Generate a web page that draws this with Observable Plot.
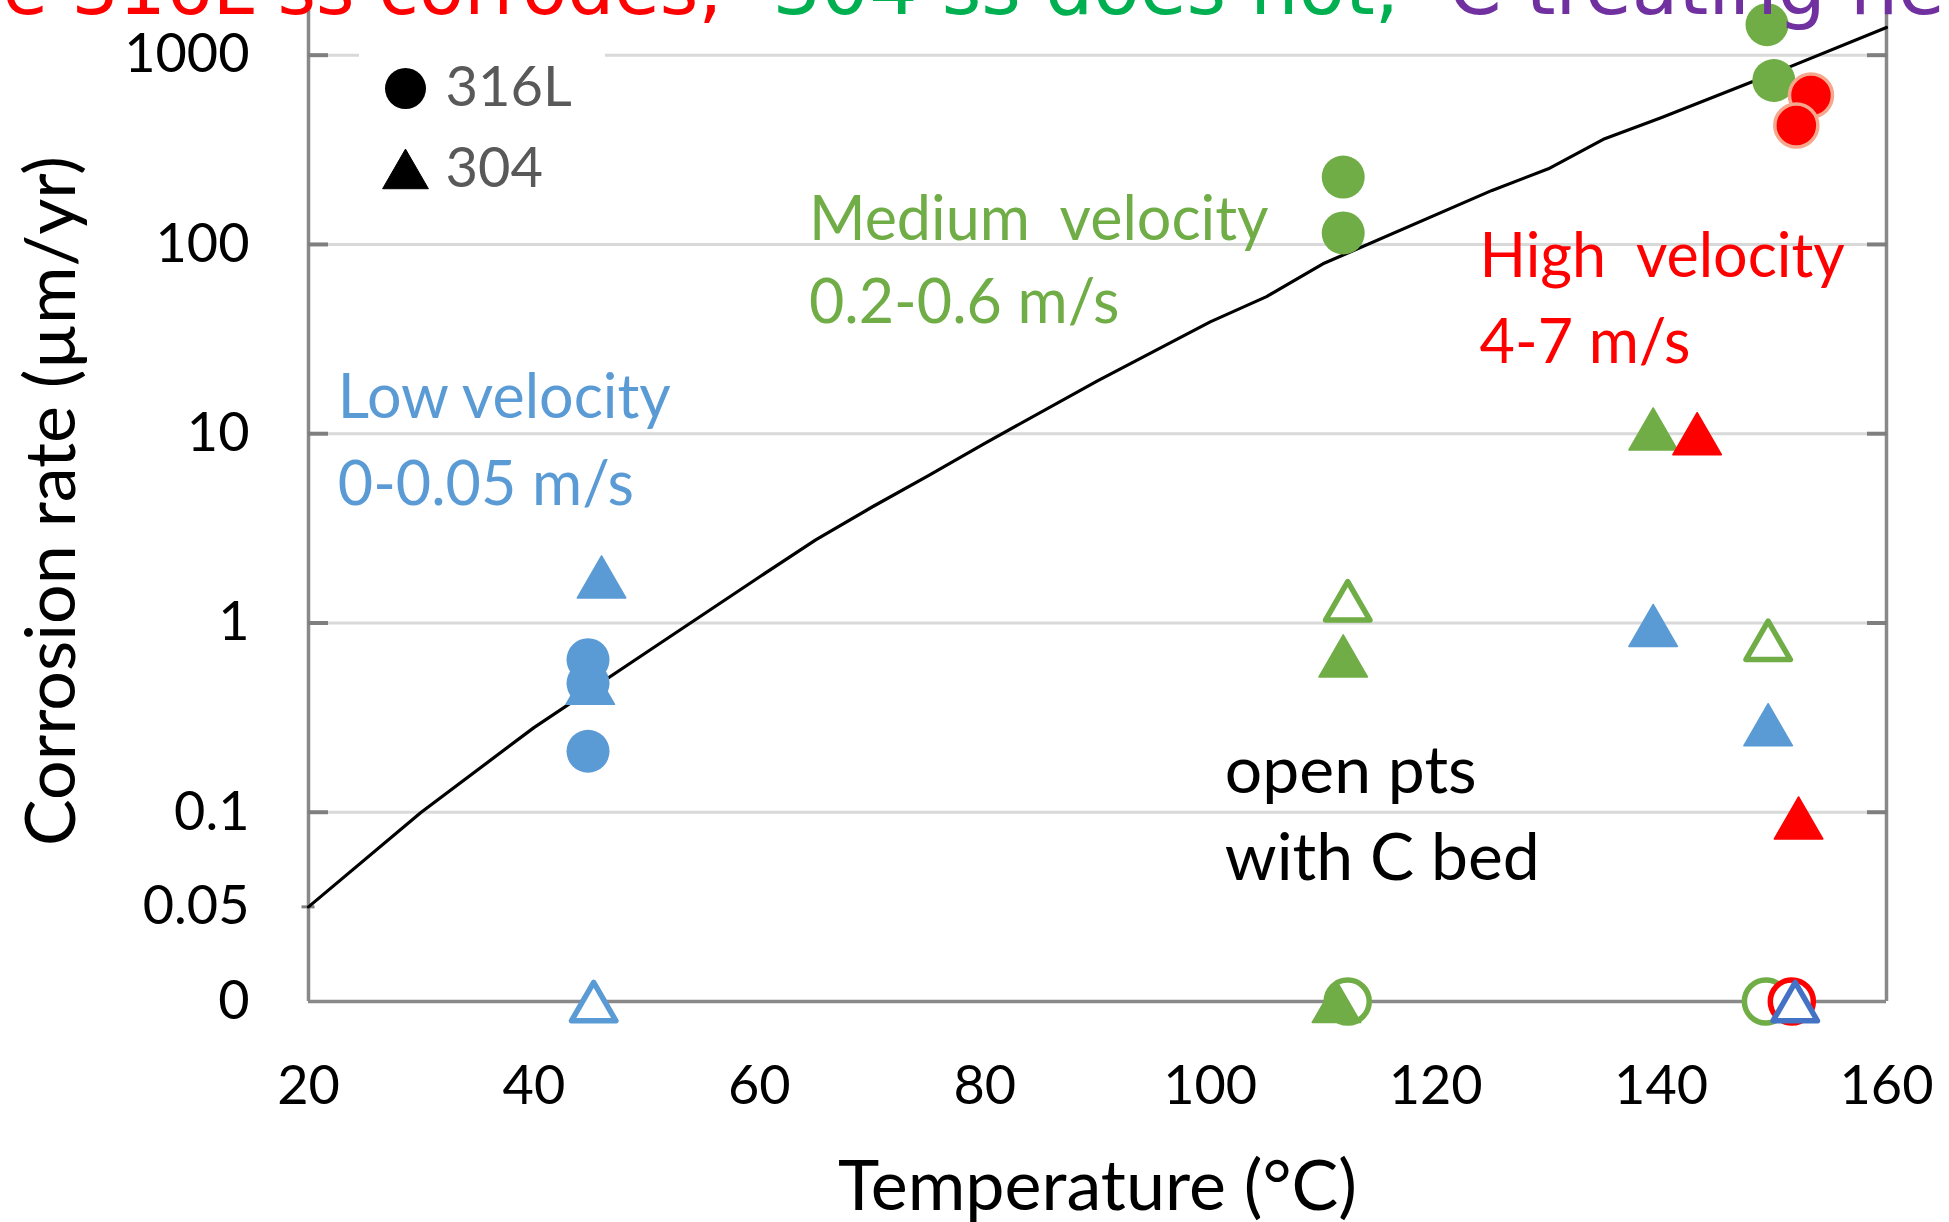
<!DOCTYPE html>
<html>
<head>
<meta charset="utf-8">
<script src="https://cdn.jsdelivr.net/npm/d3@7"></script>
<script src="https://cdn.jsdelivr.net/npm/@observablehq/plot@0.6"></script>
<style>
  html, body { margin: 0; padding: 0; background: #ffffff; overflow: hidden; }
  #chart { width: 1949px; height: 1222px; }
</style>
</head>
<body>
<div id="chart"></div>
<script>
// ---------- axis ticks ----------
const xTicks = [20, 40, 60, 80, 100, 120, 140, 160];
const yTickValues = [0, 0.05, 0.1, 1, 10, 100, 1000];
const yTickLabels = ["0", "0.05", "0.1", "1", "10", "100", "1000"];
const yGridValues = [0.1, 1, 10, 100, 1000];

// ---------- model curve ----------
const curveT    = [20, 30, 40, 50, 60, 65, 70, 75, 80, 90, 100, 105, 110, 125, 130, 135, 140, 150, 160];
const curveRate = [0.05, 0.10, 0.28, 0.70, 1.75, 2.75, 4.1, 6.0, 8.9, 19, 39, 53, 79, 193, 251, 362, 467, 802, 1400];

// ---------- measured points ----------
// Low velocity 0-0.05 m/s
const lowT     = [44.8, 44.8, 44.8, 45.0, 46.0, 45.3, 139.3, 149.5];
const lowRate  = [0.64, 0.48, 0.21, 0.48, 1.75, 0, 0.97, 0.29];
const lowAlloy = ["316L", "316L", "316L", "304", "304", "304", "304", "304"];
const lowCBed  = [false, false, false, false, false, true, false, false];

// Medium velocity 0.2-0.6 m/s
const medT     = [111.8, 111.8, 149.4, 150.0, 112.2, 149.3, 112.2, 111.8, 111.2, 139.3, 149.5];
const medRate  = [227, 115, 1450, 735, 0, 0, 1.31, 0.67, 0, 10.6, 0.81];
const medAlloy = ["316L", "316L", "316L", "316L", "316L", "316L", "304", "304", "304", "304", "304"];
const medCBed  = [false, false, false, false, true, true, true, false, false, false, true];

// High velocity 4-7 m/s
const highT     = [153.3, 152.0, 151.6, 143.2, 152.2];
const highRate  = [612, 425, 0, 10.0, 0.097];
const highAlloy = ["316L", "316L", "316L", "304", "304"];
const highCBed  = [false, false, true, false, false];

// Additional open point (dark blue)
const otherT     = [151.9];
const otherRate  = [0];
const otherAlloy = ["304"];
const otherCBed  = [true];

// ---------- text ----------
const titleParts  = ["e 316L ss corrodes,", "304 ss does not,", "C treating helps"];
const legendNames = ["316L", "304"];
const annoLabels  = ["Low velocity", "0-0.05 m/s", "Medium\u00A0 velocity", "0.2-0.6 m/s",
                     "High\u00A0 velocity", "4-7 m/s", "open pts", "with C bed"];
const annoT       = [22.6, 22.6, 64.4, 64.4, 123.9, 123.9, 101.3, 101.3];
const annoRate    = [12.05, 4.18, 106, 38.3, 67, 23.5, 0.127, 0.064];
const annoGroup   = ["low", "low", "med", "med", "high", "high", "note", "note"];

// ---------- styling ----------
const colors = {low: "#5B9BD5", med: "#70AD47", high: "#FF0000", other: "#4472C4", note: "#000000"};
const titleColors = ["#FF0000", "#00B050", "#7030A0"];

// display transform of the chart's custom axis: linear 0..0.1 stretched over one decade below 0.1
const disp = v => v < 0.1 ? Math.pow(10, -2 + 10 * v) : v;
const labelFor = d => {
  const i = yTickValues.findIndex(v => Math.abs(Math.log10(disp(v)) - Math.log10(d)) < 1e-6);
  return i >= 0 ? yTickLabels[i] : "";
};

const curve = curveT.map((t, i) => ({t, rate: curveRate[i]}));
const annos = annoLabels.map((s, i) => ({s, t: annoT[i], rate: annoRate[i], g: annoGroup[i]}));

function pointMarks(T, R, A, C, color, ring) {
  const pts = T.map((t, i) => ({t, rate: R[i], alloy: A[i], cbed: C[i]}));
  const y = d => disp(d.rate);
  return [
    Plot.dot(pts.filter(d => d.alloy === "316L" && !d.cbed),
      {x: "t", y, r: 21.5, fill: color, stroke: ring || color, strokeWidth: ring ? 3.5 : 0}),
    Plot.dot(pts.filter(d => d.alloy === "316L" && d.cbed),
      {x: "t", y, r: 21.5, fill: "white", stroke: color, strokeWidth: 5.5}),
    Plot.dot(pts.filter(d => d.alloy === "304" && !d.cbed),
      {x: "t", y, symbol: "triangle", r: 18, dy: 7, fill: color, stroke: color, strokeWidth: 1.5, strokeLinejoin: "round"}),
    Plot.dot(pts.filter(d => d.alloy === "304" && d.cbed),
      {x: "t", y, symbol: "triangle", r: 16.5, dy: 6.5, fill: "white", stroke: color, strokeWidth: 5.5, strokeLinejoin: "round"})
  ];
}

const legendBox = (index, scales, values, dims) =>
  d3.create("svg:rect")
    .attr("x", dims.marginLeft + 51).attr("y", dims.marginTop + 28)
    .attr("width", 246).attr("height", 180)
    .attr("fill", "white").node();

const axisGray = "#898989";

const chart = Plot.plot({
  width: 1949,
  height: 1222,
  marginLeft: 308,
  marginRight: 63,
  marginTop: 0,
  marginBottom: 221,
  style: {fontFamily: "Lato, 'Open Sans', sans-serif", fontSize: "54px", background: "white", color: "black", overflow: "visible"},
  x: {domain: [20, 160], label: null},
  y: {type: "log", domain: [disp(0), 1945], label: null},
  marks: [
    // grid
    Plot.ruleY(yGridValues.map(disp), {stroke: "#D9D9D9", strokeWidth: 3}),
    legendBox,
    // frame lines
    Plot.ruleX([20, 160], {stroke: axisGray, strokeWidth: 3.5}),
    Plot.ruleY([disp(0)], {x1: 20, x2: 160, stroke: axisGray, strokeWidth: 3.5}),
    // inward ticks
    Plot.axisY(yGridValues.map(disp), {anchor: "left", label: null, tickSize: 20, dx: 20, tickFormat: () => "", stroke: "#7F7F7F", strokeWidth: 4}),
    Plot.axisY(yGridValues.map(disp), {anchor: "right", label: null, tickSize: 20, dx: -20, tickFormat: () => "", stroke: "#7F7F7F", strokeWidth: 4}),
    Plot.axisY([disp(0.05)], {anchor: "left", label: null, tickSize: 13, dx: 6.5, tickFormat: () => "", stroke: "#7F7F7F", strokeWidth: 3}),
    // tick labels
    Plot.axisY(yTickValues.map(disp), {anchor: "left", label: null, tickSize: 0, tickPadding: 59, tickFormat: labelFor, fontSize: 54, fill: "black"}),
    Plot.axisX(xTicks, {anchor: "bottom", label: null, tickSize: 0, tickPadding: 64, tickFormat: d => String(d), fontSize: 54, fill: "black"}),
    // axis titles
    Plot.text(["Temperature (°C)"], {text: d => d, frameAnchor: "bottom", dy: 186, fontSize: 70, textAnchor: "middle", lineAnchor: "middle", fill: "black"}),
    Plot.text(["Corrosion rate (µm/yr)"], {text: d => d, frameAnchor: "left", dx: -256, rotate: -90, fontSize: 70, textAnchor: "middle", lineAnchor: "middle", fill: "black"}),
    // model curve
    Plot.line(curve, {x: "t", y: d => disp(d.rate), stroke: "black", strokeWidth: 3.2}),
    // points
    ...pointMarks(lowT, lowRate, lowAlloy, lowCBed, colors.low),
    ...pointMarks(medT, medRate, medAlloy, medCBed, colors.med),
    ...pointMarks(highT, highRate, highAlloy, highCBed, colors.high, "#F5A88E"),
    ...pointMarks(otherT, otherRate, otherAlloy, otherCBed, colors.other),
    // annotations
    Plot.text(annos, {x: "t", y: d => disp(d.rate), text: "s", textAnchor: "start", lineAnchor: "bottom",
      fill: d => colors[d.g], fontSize: d => (d.g === "note" ? 66 : 61)}),
    // legend
    Plot.dot([legendNames[0]], {frameAnchor: "top-left", dx: 97, dy: 88, r: 20.5, fill: "black"}),
    Plot.dot([legendNames[1]], {frameAnchor: "top-left", dx: 97, dy: 175, r: 17, symbol: "triangle", fill: "black", stroke: "black", strokeWidth: 1, strokeLinejoin: "round"}),
    Plot.text([legendNames[0]], {text: d => d, frameAnchor: "top-left", dx: 137, dy: 88, textAnchor: "start", lineAnchor: "middle", fill: "#595959", fontSize: 56}),
    Plot.text([legendNames[1]], {text: d => d, frameAnchor: "top-left", dx: 137, dy: 169, textAnchor: "start", lineAnchor: "middle", fill: "#595959", fontSize: 56}),
    // title (partly cut off at the top edge, as in the reference)
    Plot.text([titleParts[0]], {text: d => d, frameAnchor: "top-left", dx: -306, dy: 13, textAnchor: "start", lineAnchor: "bottom", fill: titleColors[0], fontSize: 74, fontFamily: "DejaVu Sans"}),
    Plot.text([titleParts[1]], {text: d => d, frameAnchor: "top-left", dx: 464, dy: 13, textAnchor: "start", lineAnchor: "bottom", fill: titleColors[1], fontSize: 76, fontFamily: "DejaVu Sans"}),
    Plot.text([titleParts[2]], {text: d => d, frameAnchor: "top-left", dx: 1140, dy: 13, textAnchor: "start", lineAnchor: "bottom", fill: titleColors[2], fontSize: 76, fontFamily: "DejaVu Sans"})
  ]
});

document.getElementById("chart").appendChild(chart);
</script>
</body>
</html>
